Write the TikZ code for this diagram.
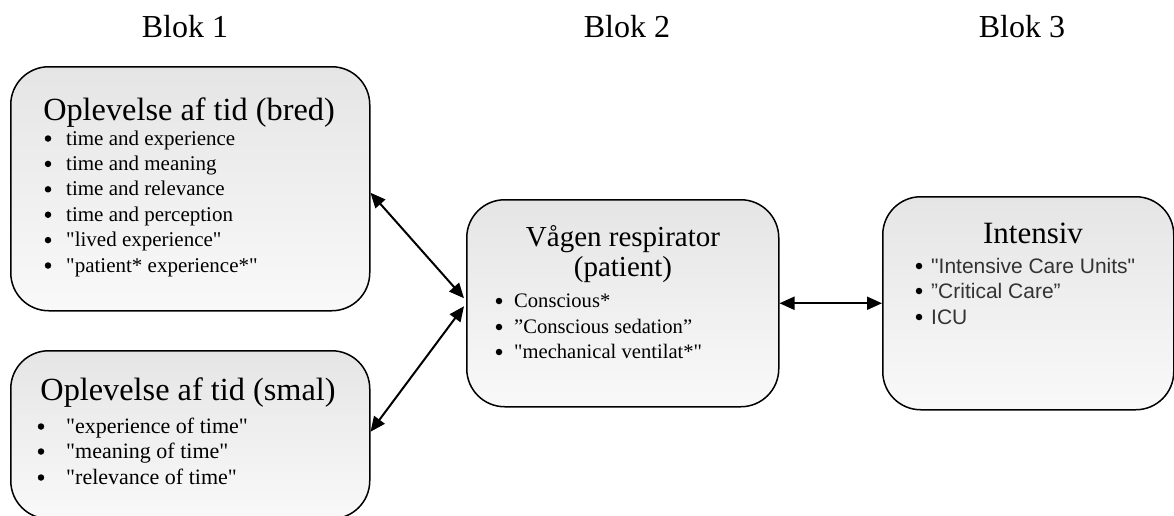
\documentclass[tikz,border=0pt]{standalone}
\usepackage{fontspec}
\setmainfont{Liberation Serif}
\newfontfamily\tnr{Liberation Serif}
\newfontfamily\arialfont{Liberation Sans}
\usetikzlibrary{arrows.meta,calc}
\begin{document}
\begin{tikzpicture}[x=1pt,y=-1pt,
  box/.style={draw=black, line width=1.5pt, rounded corners=38pt,
    top color={rgb,255:red,229;green,229;blue,229},
    bottom color={rgb,255:red,249;green,249;blue,249},
    anchor=north west, inner sep=0pt},
  blk/.style={font=\tnr\fontsize{32}{36}\selectfont, anchor=base, inner sep=0pt},
  ttl/.style={font=\tnr\fontsize{#1}{36}\selectfont, anchor=base, inner sep=0pt},
  itm/.style={font=\tnr\fontsize{#1}{25}\selectfont, anchor=base west, inner sep=0pt},
  itmi/.style={font=\arialfont\fontsize{21}{25}\selectfont, text=black!80, anchor=base west, inner sep=0pt},
  dot/.style={circle, fill=black, inner sep=0pt, minimum size=6.5pt},
  conn/.style={line width=2pt, {Triangle[length=15pt,width=13pt]}-{Triangle[length=15pt,width=13pt]}}
]
\useasboundingbox (0,0) rectangle (1174,515);

% Blok labels
\node[blk] (b1) at (185,37) {Blok 1};
\node[blk] (b2) at (627,37) {Blok 2};
\node[blk] (b3) at (1022,37) {Blok 3};

% boxes
\node[box, minimum width=359pt, minimum height=244pt] (bred) at (10,66) {};
\node[box, minimum width=359pt, minimum height=168pt] (smal) at (10,350) {};
\node[box, minimum width=312pt, minimum height=207pt] (vag) at (466,199) {};
\node[box, minimum width=291pt, minimum height=213pt] (int) at (882,196) {};

% bred content
\node[ttl=32.3] (t1) at (189,120) {Oplevelse af tid (bred)};
\foreach \y/\t [count=\i] in {145/time and experience, 170.4/time and meaning, 195.8/time and relevance, 221.2/time and perception, 246.6/"lived experience", 272/"patient* experience*"}{
  \node[dot] (bb\i) at (48,\y-6.5) {};
  \node[itm=21] (ib\i) at (66,\y) {\t};
}

% smal content
\node[ttl=32.3] (t2) at (188,400) {Oplevelse af tid (smal)};
\foreach \y/\t [count=\i] in {433/"experience of time", 458/"meaning of time", 484/"relevance of time"}{
  \node[dot] (bs\i) at (41,\y-6.5) {};
  \node[itm=22] (is\i) at (66,\y) {\t};
}

% vagen content
\node[ttl=29] (t3a) at (623,246) {Vågen respirator};
\node[ttl=29] (t3b) at (623,276) {(patient)};
\foreach \y/\t [count=\i] in {307/Conscious*, 333/”Conscious sedation”, 358/"mechanical ventilat*"}{
  \node[dot] (bv\i) at (499,\y-6) {};
  \node[itm=20.6] (iv\i) at (514,\y) {\t};
}

% intensiv content
\node[ttl=31] (t4) at (1033,243) {Intensiv};
\foreach \y/\t [count=\i] in {273/"Intensive Care Units", 298/”Critical Care”, 324/ICU}{
  \node[dot] (bi\i) at (919,\y-7) {};
  \node[itmi] (ii\i) at (931,\y) {\t};
}

% connectors
\draw[conn] ($(bred.east)+(0,4)$) -- ($(vag.west)+(-2,-5)$);
\draw[conn] ($(smal.east)+(0,-3)$) -- ($(vag.west)+(-2,3)$);
\draw[conn] (vag.east) -- (int.west);
\end{tikzpicture}
\end{document}
